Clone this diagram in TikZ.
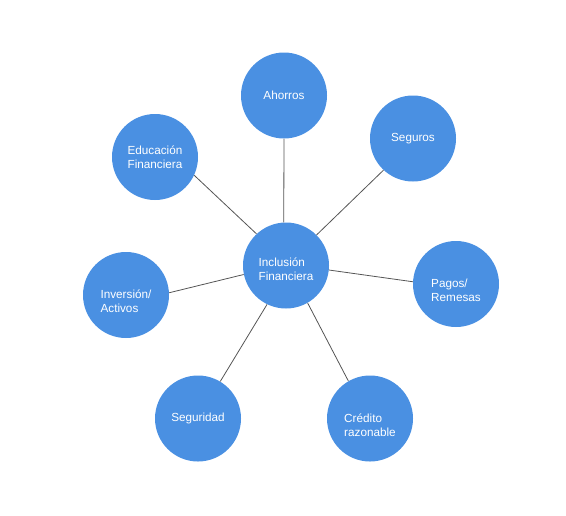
\documentclass[tikz,border=0pt]{standalone}
\usepackage{fontspec}
\setmainfont{Liberation Sans}
\usepackage{tikz}
\definecolor{BubbleBlue}{HTML}{4A90E2}
\definecolor{LinkGray}{HTML}{555555}

\begin{document}
\begin{tikzpicture}[x=0.75pt,y=-0.75pt,
    bubble/.style={circle,fill=BubbleBlue,inner sep=0pt,minimum size=64.5pt,
      text=white,align=left,font=\fontsize{8.8}{10.5}\selectfont},
    link/.style={LinkGray,line width=0.6pt}]
   \useasboundingbox (0,0) rectangle (566,515);

   \node[bubble,text height=22pt] (inc) at (286,265.5) {Inclusión\\Financiera};
   \node[bubble] (aho) at (284,95.5) {Ahorros};
   \node[bubble] (seg) at (413,138.5) {Seguros};
   \node[bubble,text height=26pt] (pag) at (456,284) {Pagos/\\Remesas};
   \node[bubble,text height=27.5pt] (cre) at (370,418.5) {Crédito\\razonable};
   \node[bubble] (sgd) at (198,418.5) {Seguridad};
   \node[bubble,text height=26pt] (inv) at (126,295) {Inversión/\\Activos};
   \node[bubble] (edu) at (155,157) {Educación\\Financiera};

   \draw[link] (inc.93) to (aho.270);
   \draw[link] (inc.45) to (seg.227);
   \draw[link] (inc.354) to (pag.177);
   \draw[link] (inc.300) to (cre.120);
   \draw[link] (inc.244) to (sgd.59);
   \draw[link] (inc.192) to (inv.3);
   \draw[link] (inc.133) to (edu.335);
  \end{tikzpicture}
\end{document}
